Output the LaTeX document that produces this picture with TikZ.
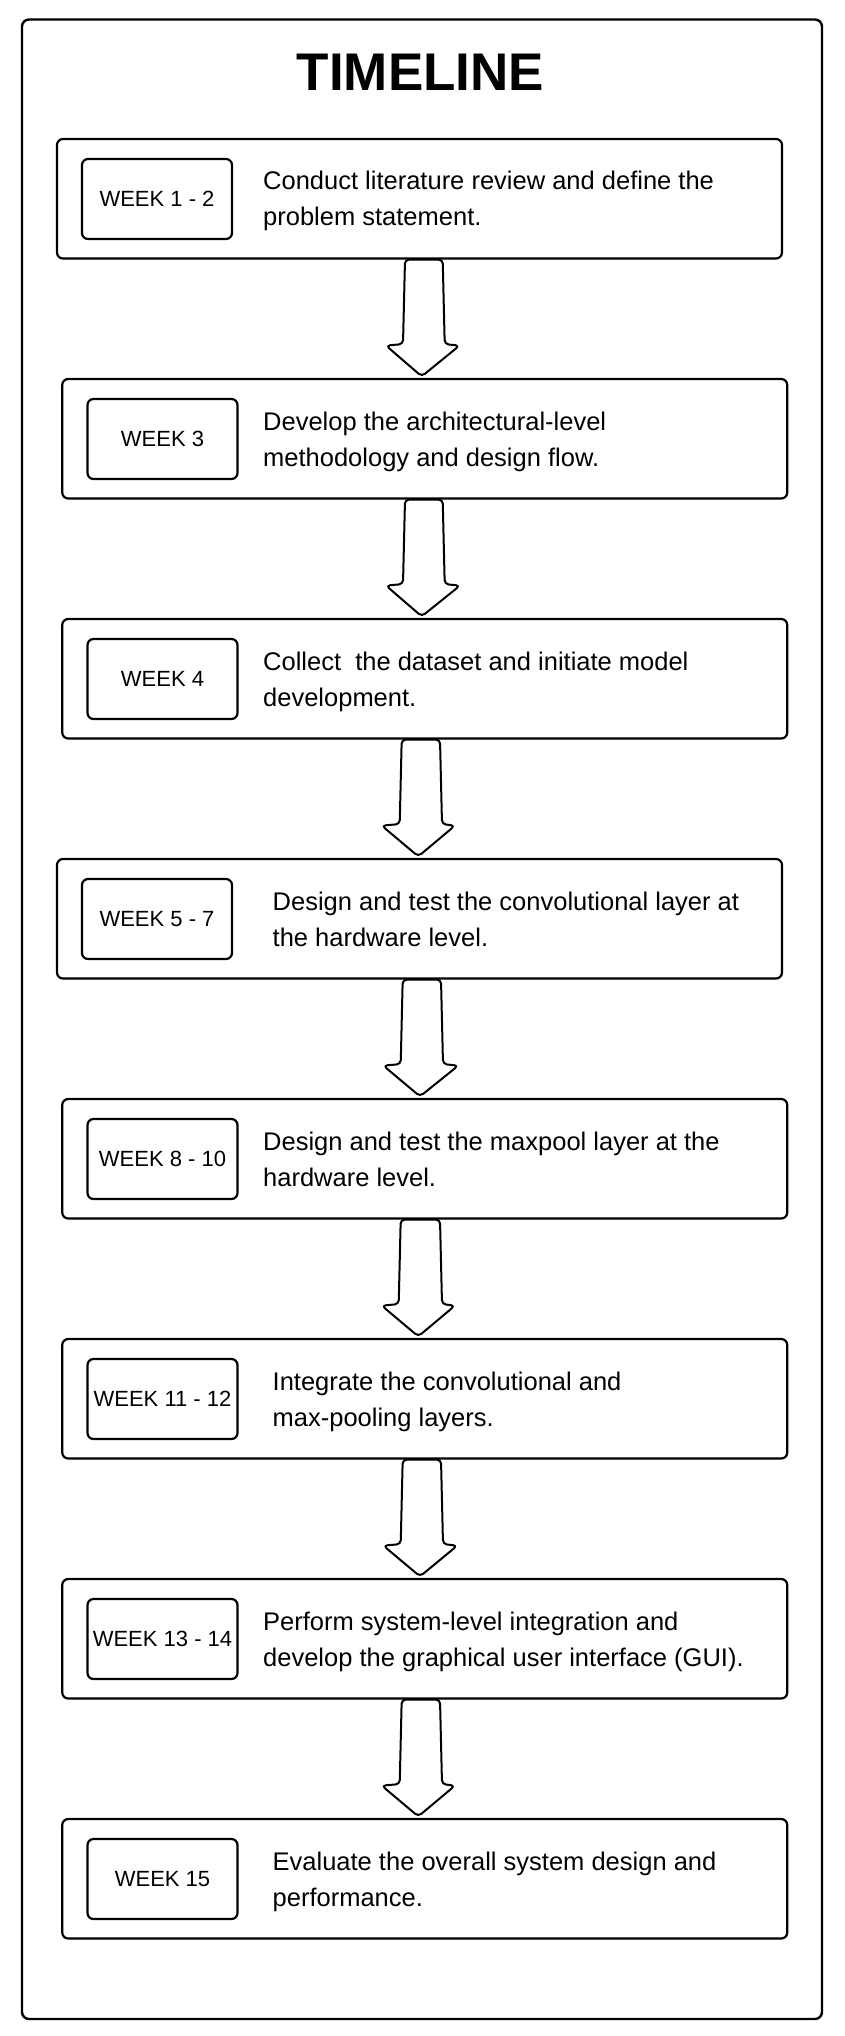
\documentclass[tikz,border=0pt]{standalone}
\usepackage{fontspec}
\setmainfont{Liberation Sans}
\usetikzlibrary{calc}
\tikzset{
  outerframe/.style={draw=black, line width=2.4pt, rounded corners=7pt, minimum width=800pt, minimum height=1999.5pt, inner sep=0pt},
  stagebox/.style={draw=black, line width=2.2pt, rounded corners=6pt, minimum width=725pt, minimum height=119.5pt, inner sep=0pt, fill=white},
  weekbox/.style={draw=black, line width=2.2pt, rounded corners=6pt, minimum width=150pt, minimum height=80pt, inner sep=0pt, font=\fontsize{22pt}{26pt}\selectfont},
  desc/.style={anchor=base west, inner sep=0pt, font=\fontsize{25.5pt}{30pt}\selectfont},
  blockarrow/.style={draw=black, line width=2pt, rounded corners=4pt, line join=round},
  titletext/.style={anchor=base, inner sep=0pt, font=\fontsize{53pt}{60pt}\selectfont\bfseries}
}
% #1 from node, #2 to node, #3 shaft left, #4 shaft right, #5 wing left, #6 wing right, #7 tip x
\newcommand{\flowarrow}[7]{%
  \draw[blockarrow] let \p1=(#1.south), \p2=(#2.north) in
   ({(#3pt+#4pt)/2},\y1) -- (#3pt,\y1) -- ({#3pt-2pt},{\y1-84.5pt})
   -- (#5pt,{\y1-86pt}) -- (#7pt,{\y2+1.5pt}) -- (#6pt,{\y1-86pt})
   -- ({#4pt+2pt},{\y1-84.5pt}) -- (#4pt,\y1) -- cycle;}
\begin{document}
\begin{tikzpicture}[x=1pt,y=-1pt]
\fill[white] (0,0) rectangle (844,2036);
\useasboundingbox (0,0) rectangle (844,2036);

\node[outerframe] (frame) at (422,1019.25) {};
\node[titletext] (title) at (420.5,91) {TIMELINE};

% stage boxes
\node[stagebox] (b1) at (419.5,198.75) {};
\node[stagebox] (b2) at (424.75,438.75) {};
\node[stagebox] (b3) at (424.75,678.75) {};
\node[stagebox] (b4) at (419.5,918.75) {};
\node[stagebox] (b5) at (424.75,1158.75) {};
\node[stagebox] (b6) at (424.75,1398.75) {};
\node[stagebox] (b7) at (424.75,1638.75) {};
\node[stagebox] (b8) at (424.75,1878.75) {};

% week labels
\node[weekbox] (w1) at (157,199) {WEEK 1 - 2};
\node[weekbox] (w2) at (162.5,439) {WEEK 3};
\node[weekbox] (w3) at (162.5,679) {WEEK 4};
\node[weekbox] (w4) at (157,919) {WEEK 5 - 7};
\node[weekbox] (w5) at (162.5,1159) {WEEK 8 - 10};
\node[weekbox] (w6) at (162.5,1399) {WEEK 11 - 12};
\node[weekbox] (w7) at (162.5,1639) {WEEK 13 - 14};
\node[weekbox] (w8) at (162.5,1879) {WEEK 15};

% descriptions
\node[desc] (d1a) at (263,190) {Conduct literature review and define the};
\node[desc] (d1b) at (263,226) {problem statement.};
\node[desc] (d2a) at (263,430) {Develop the architectural-level};
\node[desc] (d2b) at (263,466) {methodology and design flow.};
\node[desc] (d3a) at (263,670) {Collect\ \ the dataset and initiate model};
\node[desc] (d3b) at (263,706) {development.};
\node[desc] (d4a) at (272.5,910) {Design and test the convolutional layer at};
\node[desc] (d4b) at (272.5,946) {the hardware level.};
\node[desc] (d5a) at (263,1150) {Design and test the maxpool layer at the};
\node[desc] (d5b) at (263,1186) {hardware level.};
\node[desc] (d6a) at (272.5,1390) {Integrate the convolutional and};
\node[desc] (d6b) at (272.5,1426) {max-pooling layers.};
\node[desc] (d7a) at (263,1630) {Perform system-level integration and};
\node[desc] (d7b) at (263,1666) {develop the graphical user interface (GUI).};
\node[desc] (d8a) at (272.5,1870) {Evaluate the overall system design and};
\node[desc] (d8b) at (272.5,1906) {performance.};

% arrows
\flowarrow{b1}{b2}{405}{442.7}{386}{459.5}{421.7}
\flowarrow{b2}{b3}{405}{442.7}{386}{460}{421.7}
\flowarrow{b3}{b4}{401.7}{440}{381.7}{455}{418.3}
\flowarrow{b4}{b5}{402.7}{441}{383.3}{458.3}{420}
\flowarrow{b5}{b6}{400.7}{440}{381.7}{455}{418.3}
\flowarrow{b6}{b7}{402.7}{441}{383.3}{457.3}{420}
\flowarrow{b7}{b8}{401.7}{440}{381.7}{455}{418.3}
\end{tikzpicture}
\end{document}
